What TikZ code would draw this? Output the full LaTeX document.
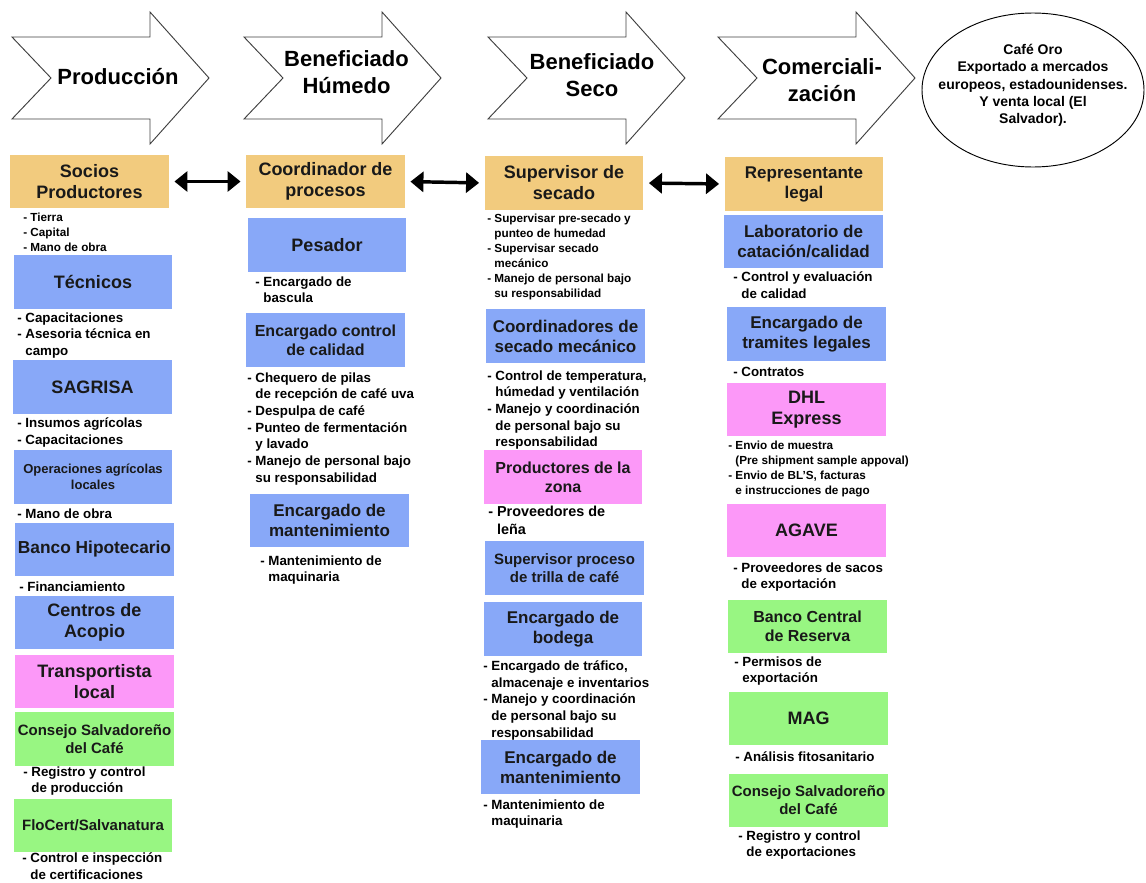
\documentclass[tikz,border=0pt]{standalone}
\usepackage{fontspec}
\setmainfont{Liberation Sans}
\usepackage{tikz}
\usetikzlibrary{arrows.meta}
\definecolor{naranja}{RGB}{242,203,126}
\definecolor{azul}{RGB}{136,168,248}
\definecolor{rosa}{RGB}{252,152,248}
\definecolor{verde}{RGB}{152,246,130}
\newcommand\sangria{\phantom{-\ }}
\newcommand\ancho{119pt}

\begin{document}
\begin{tikzpicture}[x=0.75pt, y=-0.75pt, flecha/.style={draw=black!75, line width=0.7pt, fill=white}, titulo/.style={align=center, font=\fontsize{16.5}{20.25}\selectfont\bfseries},
    caja/.style={minimum width=\ancho, minimum height=40pt, inner sep=0pt, align=center, text=black!90, font=\fontsize{13.5}{15.75}\selectfont\bfseries},
    grande/.style={font=\fontsize{12.75}{15}\selectfont\bfseries}, media/.style={font=\fontsize{12}{14.5}\selectfont\bfseries}, chica/.style={font=\fontsize{11.25}{13.5}\selectfont\bfseries},
    nota/.style={anchor=north west, yshift=8.75pt, inner sep=0pt, align=left, execute at begin node=\strut, font=\fontsize{10}{12.5}\selectfont\bfseries},
    notita/.style={anchor=north west, yshift=7.91pt, inner sep=0pt, align=left, execute at begin node=\strut, font=\fontsize{8.8}{11.3}\selectfont\bfseries},
    doble/.style={{Triangle[length=9.75pt,width=15pt]}-{Triangle[length=9.75pt,width=15pt]}, line width=2.6pt, shorten >=4pt, shorten <=4pt}]
    \useasboundingbox (0,0) rectangle (1146,882);

    %Etapas
    \foreach \x in {12,244,488,718}
        \draw[flecha] (\x,37) -- ({\x+138},37) -- ({\x+138},12) -- ({\x+197},78) -- ({\x+138},144) -- ({\x+138},119) -- (\x,119) -- ({\x+39},78) -- cycle;
    \node at (118,77) [titulo] (prod) {Producción};
    \node at (346.5,72.5) [titulo] (humedo) {Beneficiado\\Húmedo};
    \node at (592,75) [titulo] (seco) {Beneficiado\\Seco};
    \node at (822,80) [titulo] (comer) {Comerciali-\\zación};

    \node at (1033,85.5) [align=center, font=\fontsize{10.5}{12.9}\selectfont\bfseries] (oro) {Café Oro\\Exportado a mercados\\europeos, estadounidenses.\\Y venta local (El\\Salvador).};
    \draw[line width=0.7pt] (oro.center) ++(0,4.5) ellipse [x radius=111, y radius=77];

    %Produccion
    \node at (89.5,181.5) [caja, fill=naranja] (socios) {Socios\\Productores};
    \node at (23,223) [notita] (n1) {- Tierra\\- Capital\\- Mano de obra};
    \node at (93,282) [caja, fill=azul] (tecnicos) {Técnicos};
    \node at (17,324) [nota] (n2) {- Capacitaciones\\- Asesoria técnica en\\\sangria campo};
    \node at (92.5,387) [caja, fill=azul] (sagrisa) {SAGRISA};
    \node at (17,429) [nota] (n3) {- Insumos agrícolas\\- Capacitaciones};
    \node at (93,477) [caja, fill=azul, font=\fontsize{9.75}{12}\selectfont\bfseries] (operaciones) {Operaciones agrícolas\\locales};
    \node at (17,518) [nota] (n4) {- Mano de obra};
    \node at (94.5,549.5) [caja, fill=azul, font=\fontsize{13}{15}\selectfont\bfseries] (hipotecario) {Banco Hipotecario};
    \node at (19,591) [nota] (n5) {- Financiamiento};
    \node at (94.5,622.5) [caja, fill=azul] (acopio) {Centros de\\Acopio};
    \node at (94.5,681.5) [caja, fill=rosa] (transporte) {Transportista\\local};
    \node at (94.5,739) [caja, fill=verde, chica] (consejo) {Consejo Salvadoreño\\del Café};
    \node at (23,778) [nota] (n6) {- Registro y control\\\sangria de producción};
    \node at (93,825.5) [caja, fill=verde, chica] (flocert) {FloCert/Salvanatura};
    \node at (22,864) [nota] (n7) {- Control e inspección\\\sangria de certificaciones};

    %Beneficiado humedo
    \node at (325.5,181.5) [caja, fill=naranja] (coord) {Coordinador de\\procesos};
    \node at (327,245) [caja, fill=azul] (pesador) {Pesador};
    \node at (255,288) [nota] (h1) {- Encargado de\\\sangria bascula};
    \node at (325.5,340) [caja, fill=azul, media] (calidad) {Encargado control\\de calidad};
    \node at (247,384) [nota] (h2) {- Chequero de pilas\\\sangria de recepción de café uva\\- Despulpa de café\\- Punteo de fermentación\\\sangria y lavado\\- Manejo de personal bajo\\\sangria su responsabilidad};
    \node at (329.5,520.5) [caja, fill=azul, grande] (mant1) {Encargado de\\mantenimiento};
    \node at (260,567) [nota] (h3) {- Mantenimiento de\\\sangria maquinaria};

    %Beneficiado seco
    \node at (564,183) [caja, fill=naranja] (superv) {Supervisor de\\secado};
    \node at (487,224) [notita] (s1) {- Supervisar pre-secado y\\\sangria punteo de humedad\\- Supervisar secado\\\sangria mecánico\\- Manejo de personal bajo\\\sangria su responsabilidad};
    \node at (565.5,336) [caja, fill=azul, grande] (secado) {Coordinadores de\\secado mecánico};
    \node at (487,382) [nota] (s2) {- Control de temperatura,\\\sangria húmedad y ventilación\\- Manejo y coordinación\\\sangria de personal bajo su\\\sangria responsabilidad};
    \node at (563,477) [caja, fill=rosa, media] (zona) {Productores de la\\zona};
    \node at (488,518) [nota, yshift=0.7pt, font=\fontsize{10.8}{13.5}\selectfont\bfseries] (s3) {- Proveedores de\\\sangria leña};
    \node at (564.5,568) [caja, fill=azul, chica] (trilla) {Supervisor proceso\\de trilla de café};
    \node at (563,629) [caja, fill=azul, grande] (bodega) {Encargado de\\bodega};
    \node at (483,672) [nota] (s4) {- Encargado de tráfico,\\\sangria almacenaje e inventarios\\- Manejo y coordinación\\\sangria de personal bajo su\\\sangria responsabilidad};
    \node at (560.5,767) [caja, fill=azul, grande] (mant2) {Encargado de\\mantenimiento};
    \node at (483,811) [nota] (s5) {- Mantenimiento de\\\sangria maquinaria};

    %Comercializacion
    \node at (804,184) [caja, fill=naranja, grande] (repre) {Representante\\legal};
    \node at (803.5,241.5) [caja, fill=azul, grande] (lab) {Laboratorio de\\catación/calidad};
    \node at (733,283) [nota] (c1) {- Control y evaluación\\\sangria de calidad};
    \node at (806.5,334) [caja, fill=azul, grande] (tramites) {Encargado de\\tramites legales};
    \node at (733,376) [nota] (c2) {- Contratos};
    \node at (806.5,409.5) [caja, fill=rosa] (dhl) {DHL\\Express};
    \node at (728,451) [notita] (c3) {- Envio de muestra\\\sangria(Pre shipment sample appoval)\\- Envio de BL'S, facturas\\\sangria e instrucciones de pago};
    \node at (806.5,530.5) [caja, fill=rosa] (agave) {AGAVE};
    \node at (733,574) [nota] (c4) {- Proveedores de sacos\\\sangria de exportación};
    \node at (807.5,626.5) [caja, fill=verde, media] (bcr) {Banco Central\\de Reserva};
    \node at (734,668) [nota] (c5) {- Permisos de\\\sangria exportación};
    \node at (808.5,718.5) [caja, fill=verde] (mag) {MAG};
    \node at (735,761) [nota] (c6) {- Análisis fitosanitario};
    \node at (808.5,800.5) [caja, fill=verde, chica] (consejo2) {Consejo Salvadoreño\\del Café};
    \node at (738,842) [nota] (c7) {- Registro y control\\\sangria de exportaciones};

    \draw[doble] (socios.east) -- (coord.west);
    \draw[doble] (coord.east) -- (superv.west);
    \draw[doble] (superv.east) -- (repre.west);

\end{tikzpicture}
\end{document}
